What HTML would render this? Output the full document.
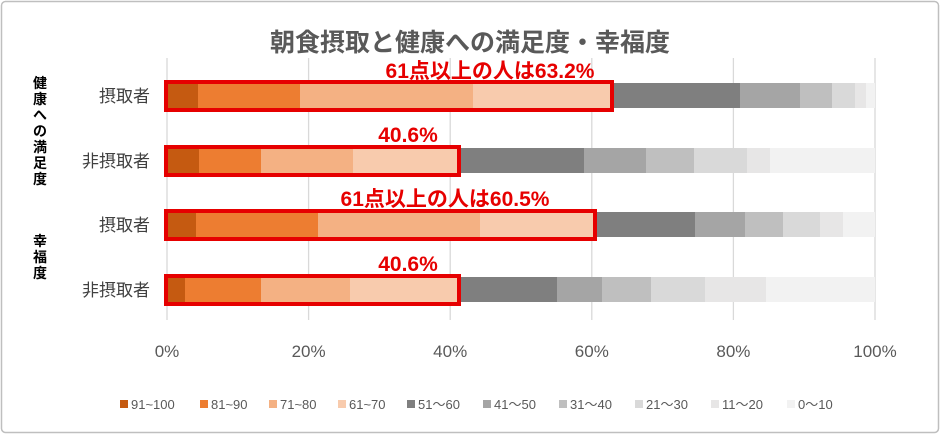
<!DOCTYPE html>
<html><head><meta charset="utf-8"><style>
body{margin:0;background:#fff;}
svg text{font-family:"Liberation Sans","Noto Sans CJK JP",sans-serif;}
</style></head><body>
<svg width="940" height="434" xmlns="http://www.w3.org/2000/svg">
<rect x="1.5" y="1.5" width="937" height="431" fill="#fff" stroke="#bfbfbf" stroke-width="1.5" rx="4"/>
<text x="470" y="51" text-anchor="middle" font-size="25" font-weight="bold" fill="#595959">朝食摂取と健康への満足度・幸福度</text>
<g stroke="#d9d9d9" stroke-width="1.3">
<line x1="167" y1="58" x2="167" y2="320"/><line x1="308.6" y1="58" x2="308.6" y2="320"/><line x1="450.2" y1="58" x2="450.2" y2="320"/><line x1="591.8" y1="58" x2="591.8" y2="320"/><line x1="733.4" y1="58" x2="733.4" y2="320"/><line x1="875" y1="58" x2="875" y2="320"/>
</g>
<g font-size="17" fill="#595959" text-anchor="middle">
<text x="167" y="357">0%</text><text x="308.6" y="357">20%</text><text x="450.2" y="357">40%</text><text x="591.8" y="357">60%</text><text x="733.4" y="357">80%</text><text x="875" y="357">100%</text>
</g>
<g font-size="17" fill="#404040" text-anchor="end">
<text x="150" y="102">摂取者</text><text x="150" y="167">非摂取者</text><text x="150" y="231">摂取者</text><text x="150" y="296">非摂取者</text>
</g>
<g font-size="14" font-weight="bold" fill="#000" text-anchor="middle">
<text x="40" y="88">健</text><text x="40" y="104">康</text><text x="40" y="120">へ</text><text x="40" y="136">の</text><text x="40" y="152">満</text><text x="40" y="168">足</text><text x="40" y="184">度</text>
<text x="40" y="246">幸</text><text x="40" y="262">福</text><text x="40" y="278">度</text>
</g>
<g>
<rect x="167" y="83" width="31" height="25" fill="#c55a11"/><rect x="198" y="83" width="102" height="25" fill="#ed7d31"/><rect x="300" y="83" width="173" height="25" fill="#f4b183"/><rect x="473" y="83" width="139" height="25" fill="#f8cbad"/>
<rect x="612" y="83" width="128" height="25" fill="#7f7f7f"/><rect x="740" y="83" width="60" height="25" fill="#a5a5a5"/><rect x="800" y="83" width="32" height="25" fill="#bfbfbf"/><rect x="832" y="83" width="23" height="25" fill="#d9d9d9"/><rect x="855" y="83" width="11" height="25" fill="#e7e6e6"/><rect x="866" y="83" width="9" height="25" fill="#f2f2f2"/>
</g>
<g>
<rect x="167" y="148" width="32" height="25" fill="#c55a11"/><rect x="199" y="148" width="62" height="25" fill="#ed7d31"/><rect x="261" y="148" width="92" height="25" fill="#f4b183"/><rect x="353" y="148" width="105" height="25" fill="#f8cbad"/>
<rect x="458" y="148" width="126" height="25" fill="#7f7f7f"/><rect x="584" y="148" width="62" height="25" fill="#a5a5a5"/><rect x="646" y="148" width="48" height="25" fill="#bfbfbf"/><rect x="694" y="148" width="53" height="25" fill="#d9d9d9"/><rect x="747" y="148" width="23" height="25" fill="#e7e6e6"/><rect x="770" y="148" width="105" height="25" fill="#f2f2f2"/>
</g>
<g>
<rect x="167" y="212" width="29" height="25" fill="#c55a11"/><rect x="196" y="212" width="122" height="25" fill="#ed7d31"/><rect x="318" y="212" width="162" height="25" fill="#f4b183"/><rect x="480" y="212" width="114" height="25" fill="#f8cbad"/>
<rect x="594" y="212" width="101" height="25" fill="#7f7f7f"/><rect x="695" y="212" width="50" height="25" fill="#a5a5a5"/><rect x="745" y="212" width="38" height="25" fill="#bfbfbf"/><rect x="783" y="212" width="37" height="25" fill="#d9d9d9"/><rect x="820" y="212" width="23" height="25" fill="#e7e6e6"/><rect x="843" y="212" width="32" height="25" fill="#f2f2f2"/>
</g>
<g>
<rect x="167" y="277" width="18" height="25" fill="#c55a11"/><rect x="185" y="277" width="76" height="25" fill="#ed7d31"/><rect x="261" y="277" width="89" height="25" fill="#f4b183"/><rect x="350" y="277" width="108" height="25" fill="#f8cbad"/>
<rect x="458" y="277" width="99" height="25" fill="#7f7f7f"/><rect x="557" y="277" width="45" height="25" fill="#a5a5a5"/><rect x="602" y="277" width="49" height="25" fill="#bfbfbf"/><rect x="651" y="277" width="54" height="25" fill="#d9d9d9"/><rect x="705" y="277" width="61" height="25" fill="#e7e6e6"/><rect x="766" y="277" width="109" height="25" fill="#f2f2f2"/>
</g>
<g fill="none" stroke="#e60000" stroke-width="4">
<rect x="166" y="82" width="446" height="28"/><rect x="166" y="147" width="293" height="28"/><rect x="166" y="211" width="429" height="28"/><rect x="166" y="276" width="293" height="28"/>
</g>
<g font-size="21" font-weight="bold" fill="#e60000" text-anchor="middle">
<text x="490" y="78">61点以上の人は63.2%</text><text x="408" y="142">40.6%</text><text x="445" y="206">61点以上の人は60.5%</text><text x="408" y="271">40.6%</text>
</g>
<g font-size="13" fill="#595959">
<rect x="120" y="400" width="8" height="8" fill="#c55a11"/><text x="131" y="409">91~100</text>
<rect x="200" y="400" width="8" height="8" fill="#ed7d31"/><text x="211" y="409">81~90</text>
<rect x="269" y="400" width="8" height="8" fill="#f4b183"/><text x="280" y="409">71~80</text>
<rect x="338" y="400" width="8" height="8" fill="#f8cbad"/><text x="349" y="409">61~70</text>
<rect x="407" y="400" width="8" height="8" fill="#7f7f7f"/><text x="418" y="409">51～60</text>
<rect x="483" y="400" width="8" height="8" fill="#a5a5a5"/><text x="494" y="409">41～50</text>
<rect x="559" y="400" width="8" height="8" fill="#bfbfbf"/><text x="570" y="409">31～40</text>
<rect x="635" y="400" width="8" height="8" fill="#d9d9d9"/><text x="646" y="409">21～30</text>
<rect x="711" y="400" width="8" height="8" fill="#e7e6e6"/><text x="722" y="409">11～20</text>
<rect x="787" y="400" width="8" height="8" fill="#f2f2f2"/><text x="798" y="409">0～10</text>
</g>
</svg>
</body></html>
